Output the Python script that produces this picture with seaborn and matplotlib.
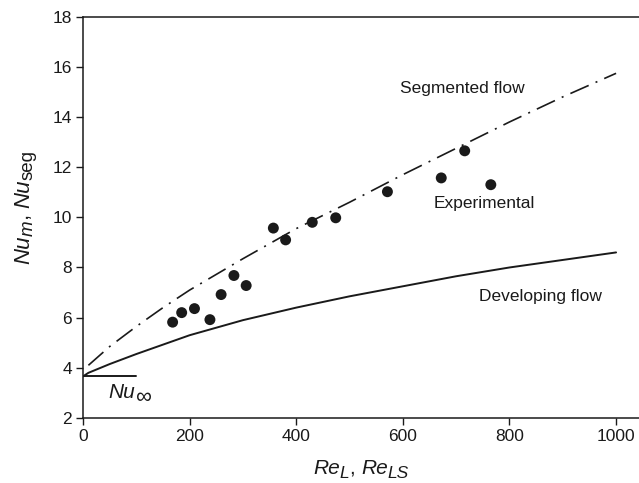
import matplotlib
matplotlib.use("Agg")
import matplotlib.pyplot as plt
import seaborn as sns
import pandas as pd

# Experimental data points
exp_re = [168, 185, 209, 238, 259, 283, 306, 357, 380, 430, 474, 571, 672, 716, 765]
exp_nu = [5.82, 6.2, 6.36, 5.92, 6.92, 7.68, 7.28, 9.57, 9.1, 9.8, 9.98, 11.02, 11.57, 12.65, 11.3]

# Segmented flow curve (dash-dot)
seg_re = [10, 50, 100, 150, 200, 300, 400, 500, 600, 700, 800, 900, 1000]
seg_nu = [4.1, 4.85, 5.65, 6.4, 7.1, 8.35, 9.55, 10.6, 11.7, 12.75, 13.8, 14.8, 15.74]

# Developing flow curve (solid)
dev_re = [0, 10, 50, 100, 200, 300, 400, 500, 600, 700, 800, 900, 1000]
dev_nu = [3.66, 3.8, 4.15, 4.55, 5.3, 5.9, 6.4, 6.85, 7.25, 7.65, 8.0, 8.3, 8.6]

# Fully developed limit
inf_re = [0, 100]
inf_nu = [3.66, 3.66]

xticks = [0, 200, 400, 600, 800, 1000]
yticks = [2, 4, 6, 8, 10, 12, 14, 16, 18]

sns.set_style("ticks")
plt.rcParams['font.family'] = ['Liberation Sans', 'DejaVu Sans']

W, H = 639, 483
fig = plt.figure(figsize=(W / 100, H / 100), dpi=100)
ax = fig.add_axes([0.130, 0.1346, 0.870, 0.831])

seg_df = pd.DataFrame({"Re": seg_re, "Nu": seg_nu})
dev_df = pd.DataFrame({"Re": dev_re, "Nu": dev_nu})
inf_df = pd.DataFrame({"Re": inf_re, "Nu": inf_nu})
exp_df = pd.DataFrame({"Re": exp_re, "Nu": exp_nu})

ink = "#1a1a1a"
sns.lineplot(data=seg_df, x="Re", y="Nu", ax=ax, color=ink, lw=1.2, sort=False)
ax.lines[-1].set_dashes((12, 4.5, 1.2, 4.5))
sns.lineplot(data=dev_df, x="Re", y="Nu", ax=ax, color=ink, lw=1.4, sort=False)
sns.lineplot(data=inf_df, x="Re", y="Nu", ax=ax, color=ink, lw=1.4, sort=False)
sns.scatterplot(data=exp_df, x="Re", y="Nu", ax=ax, color=ink, s=62,
                edgecolor="none", zorder=5)

ax.set_xlim(0, 1043)
ax.set_ylim(2, 18)
ax.set_xticks(xticks)
ax.set_yticks(yticks)
ax.tick_params(axis='both', direction='out', length=5, width=1, labelsize=12.5,
               colors=ink, pad=3)
for s in ['left', 'bottom', 'top']:
    ax.spines[s].set_color(ink)
    ax.spines[s].set_linewidth(1.1)
ax.spines['right'].set_visible(False)
ax.set_xlabel("")
ax.set_ylabel("")

ax.text(595, 15.15, 'Segmented flow', fontsize=12.5, va='center', ha='left', color=ink)
ax.text(657, 10.55, 'Experimental', fontsize=12.5, va='center', ha='left', color=ink)
ax.text(743, 6.85, 'Developing flow', fontsize=12.5, va='center', ha='left', color=ink)

renderer = fig.canvas.get_renderer()


def chain(pieces, cx, cy, vertical=False, anchor="center"):
    """pieces: (text, size, baseline offset px, style). cx, cy in pixels (origin bottom-left)."""
    widths = []
    for txt, size, dy, style in pieces:
        t = fig.text(0, 0, txt, fontsize=size, style=style)
        widths.append(t.get_window_extent(renderer).width)
        t.remove()
    total = sum(widths)
    start = (cy if vertical else cx) - (total / 2 if anchor == "center" else 0)
    pos = start
    for (txt, size, dy, style), w in zip(pieces, widths):
        if vertical:
            x, y, rot = cx - dy, pos, 90
        else:
            x, y, rot = pos, cy + dy, 0
        fig.text(x / W, y / H, txt, fontsize=size, style=style, rotation=rot,
                 rotation_mode='anchor', ha='left', va='baseline', color=ink)
        pos += w


# x label: Re_L, Re_LS (baseline in pixels from bottom)
chain([("Re", 15, 0, "italic"), ("L", 12.5, -4, "italic"), (", ", 15, 0, "normal"),
       ("Re", 15, 0, "italic"), ("LS", 12.5, -4, "italic")],
      361, H - 474)
# y label: Nu_m, Nu_seg
chain([("Nu", 16, 0, "italic"), ("m", 13.5, -4, "italic"), (", ", 16, 0, "normal"),
       ("Nu", 16, 0, "italic"), ("seg", 13.5, -4, "normal")],
      29, H - 207, vertical=True)
# Nu_inf label
chain([("Nu", 15, 0, "italic"), ("\u221e", 16, -5, "normal")],
      108, H - 398, anchor="left")

fig.savefig("out.png", dpi=100)
